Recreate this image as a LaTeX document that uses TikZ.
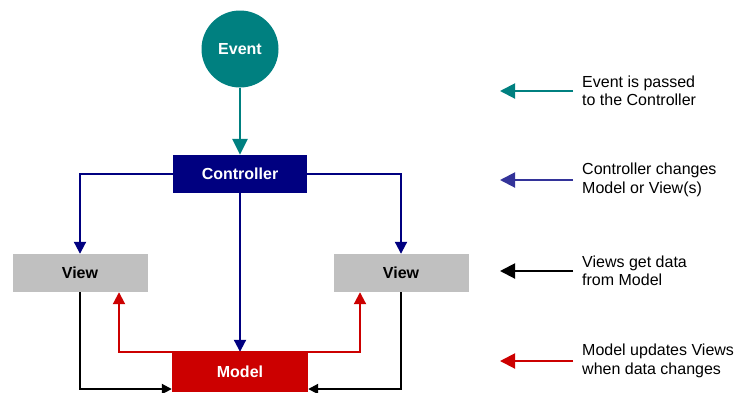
\documentclass[tikz,border=0pt]{standalone}
\usepackage{fontspec}
\setmainfont{Liberation Sans}
\usetikzlibrary{arrows.meta}
\definecolor{evteal}{RGB}{0,128,128}
\definecolor{ctrlblue}{RGB}{0,0,128}
\definecolor{keyblue}{RGB}{51,51,153}
\definecolor{mdlred}{RGB}{204,0,0}
\definecolor{viewgray}{RGB}{192,192,192}
\tikzset{
  box/.style={minimum width=135pt, minimum height=38pt, inner sep=0pt, font=\fontsize{16}{18}\selectfont\bfseries},
  link/.style={line width=2pt, -{Triangle[length=12pt,width=12pt]}},
  keyarrow/.style={line width=2pt, -{Triangle[length=15pt,width=15pt]}},
  keytext/.style={anchor=west, align=left, inner sep=0pt, font=\fontsize{16}{18.5}\selectfont},
}
\begin{document}
\begin{tikzpicture}[x=1pt, y=-1pt, line join=miter]
  \useasboundingbox (0,0) rectangle (735,392);
  % Nodes
  \node[circle, fill=evteal, minimum size=77pt, inner sep=0pt, text=white, font=\fontsize{16}{18}\selectfont\bfseries] (event) at (240,49) {Event};
  \node[box, fill=ctrlblue, text=white, minimum width=134pt] (ctrl) at (240,174) {Controller};
  \node[box, fill=viewgray] (lview) at (80,273) {View};
  \node[box, fill=viewgray] (rview) at (401,273) {View};
  \node[box, fill=mdlred, text=white, minimum width=136pt, minimum height=40pt] (model) at (240,372) {Model};
  % Event -> Controller
  \draw[link, evteal, line width=2.5pt, -{Triangle[length=16pt,width=15pt]}] (event) -- (ctrl);
  % Controller -> Views, Model
  \draw[link, ctrlblue] (ctrl.west) -| (lview.north);
  \draw[link, ctrlblue] (ctrl.east) -| (rview.north);
  \draw[link, ctrlblue] (ctrl.south) -- (model.north);
  % Model -> Views
  \draw[link, mdlred] (model.north) -| ([xshift=39pt]lview.south);
  \draw[link, mdlred] (model.north) -| ([xshift=-41pt]rview.south);
  % Views -> Model
  \draw[link, black, -{Triangle[length=10pt,width=10pt]}] (lview.south) |- ([yshift=-17pt]model.west);
  \draw[link, black, -{Triangle[length=10pt,width=10pt]}] (rview.south) |- ([yshift=-17pt]model.east);
  % Legend
  \foreach \y/\c/\txt [count=\i] in {91/evteal/{Event is passed\\to the Controller},
                                     180/keyblue/{Controller changes\\Model or View(s)},
                                     271/black/{Views get data\\from Model},
                                     361/mdlred/{Model updates Views\\when data changes}} {
    \node[keytext] (note\i) at (582,\y) {\txt};
    \coordinate (tip\i) at (500,\y);
    \draw[keyarrow, \c] ([xshift=-9pt]note\i.west) -- (tip\i);
  }
\end{tikzpicture}
\end{document}
